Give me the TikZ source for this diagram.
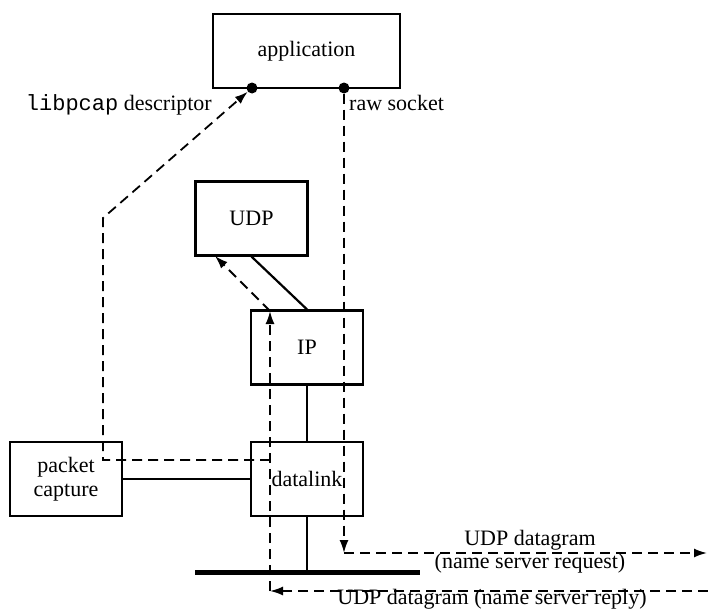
\documentclass[tikz,border=0pt]{standalone}
\usepackage{fontspec}
\setmainfont{Liberation Serif}
\setmonofont{Liberation Mono}
\usetikzlibrary{arrows.meta,positioning}
\tikzset{
  >={Latex[length=13pt,width=9pt]},
  every picture/.style={line join=miter},
  lbl/.style={font=\fontsize{22}{24}\selectfont, inner sep=0pt},
  box/.style={draw, line width=2.2pt, minimum width=112pt, minimum height=74pt,
    inner sep=0pt, align=center, font=\fontsize{22}{24}\selectfont},
  wire/.style={line width=2.2pt},
  flow/.style={line width=1.8pt, dash pattern=on 10pt off 6pt},
  bus/.style={line width=5pt},
  fd/.style={circle, fill, inner sep=0pt, minimum size=11pt},
}
\begin{document}
\begin{tikzpicture}[x=1pt, y=-1pt]
\useasboundingbox (0,0) rectangle (708,610);
% boxes
\node[box, minimum width=187pt] (app) at (306.5,51) {application};
\node[box] (udp) at (251.5,218.5) {UDP};
\node[box] (ip) at (307,347.5) {IP};
\node[box] (dl) at (307,479) {datalink};
\node[box] (pc) at (66,479) {packet\\capture};
% descriptors
\node[fd] (pcapfd) at (252,88) {};
\node[fd] (rawfd) at (344,88) {};
\node[lbl, anchor=base east] (pcaplbl) at (212,110) {\texttt{libpcap} descriptor};
\node[lbl, anchor=base west] (rawlbl) at (349,110) {raw socket};
% solid links and the wire
\coordinate (busL) at (195,572);
\coordinate (busR) at (420,572);
\draw[wire] (udp.south) -- (ip.north);
\draw[wire] (ip.south) -- (dl.north);
\draw[wire] (pc.east) -- (dl.west);
\draw[wire] (dl.south) -- (dl.south |- busL);
\draw[bus] (busL) -- (busR);
% request path
\coordinate (reqbend) at (344,553);
\coordinate (reqout) at (707,553);
\draw[flow,->] (rawfd) -- (reqbend);
\draw[flow,->] (reqbend) -- (reqout);
\node[lbl, anchor=base] (reqlbl1) at (530,545) {UDP datagram};
\node[lbl, anchor=base] (reqlbl2) at (530,568) {(name server request)};
% reply path
\coordinate (repin) at (708,591);
\coordinate (repbend) at (270,591);
\coordinate (ipin) at (270,311);
\coordinate (udpin) at (215,256);
\draw[flow,->] (repin) -- (repbend);
\draw[flow,->] (repbend) -- (ipin);
\draw[flow,->] (ipin) -- (udpin);
\node[lbl, anchor=base] (replbl) at (492,604) {UDP datagram (name server reply)};
% copy to packet capture
\coordinate (tap) at (270,460);
\coordinate (pcbend) at (103,218);
\draw[flow,->] (tap) -| (pcbend) -- (pcapfd);
\end{tikzpicture}
\end{document}
